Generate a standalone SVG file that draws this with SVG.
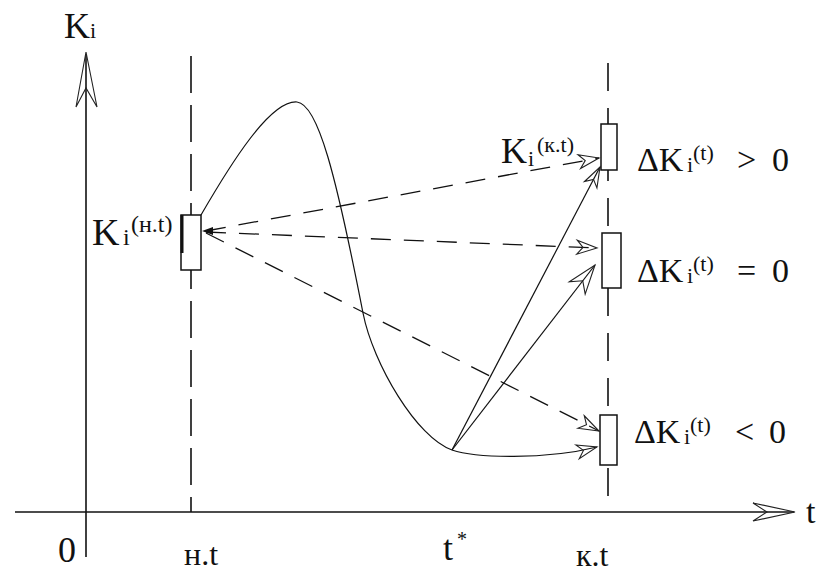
<svg xmlns="http://www.w3.org/2000/svg" width="823" height="573" viewBox="0 0 823 573" font-family="'Liberation Serif', 'DejaVu Serif', 'Times New Roman', serif">
<style>
text{font-family:"Liberation Serif","DejaVu Serif","Times New Roman",serif;fill:#111}
.ax{stroke:#111;stroke-width:1.6;fill:none}
.vd{stroke:#111;stroke-width:1.6;fill:none}
.box{fill:#fff;stroke:#111;stroke-width:1.5}
.dsh{stroke:#111;stroke-width:1.3;fill:none;stroke-dasharray:20 13}
.sol{stroke:#111;stroke-width:1.2;fill:none}
.ah{fill:none;stroke:#222;stroke-width:1.1}
</style>
<defs>
<marker id="oa" markerUnits="userSpaceOnUse" markerWidth="26" markerHeight="20" refX="23" refY="10" orient="auto" overflow="visible">
<path class="ah" d="M3,3 L23,10 L3,17 L9,10 Z"/>
</marker>
<marker id="ob" markerUnits="userSpaceOnUse" markerWidth="34" markerHeight="24" refX="31" refY="12" orient="auto" overflow="visible">
<path class="ah" d="M2,2 L31,12 L2,22 L11,12 Z"/>
</marker>
</defs>
<rect width="823" height="573" fill="#fff"/>

<g id="axes">
<line class="ax" x1="86" y1="557" x2="86" y2="55"/>
<path class="ah" d="M76,107 L86,52 L97,107 L86,88 Z" stroke-width="1.4"/>
<line class="ax" x1="15" y1="512" x2="794" y2="512"/>
<path class="ah" d="M753,503 L795,512 L753,521 L767,512 Z" stroke-width="1.4"/>
<text x="64" y="38" font-size="36">K<tspan font-size="22">i</tspan></text>
<text x="806" y="523" font-size="34">t</text>
<text x="58" y="562" font-size="36">0</text>
</g>

<g id="guides">
<line class="vd" x1="191" y1="56" x2="191" y2="512" stroke-dasharray="37 12"/>
<line class="vd" x1="608" y1="63" x2="608" y2="512" stroke-dasharray="28 17"/>
<text x="184" y="565" font-size="32">н.t</text>
<text x="576" y="566" font-size="32">к.t</text>
<text x="443" y="560" font-size="36">t</text>
<text x="457" y="546" font-size="20">*</text>
</g>

<g id="connectors">
<path class="sol" d="M201,215 C230,165 270,100 297,102 C318,104 336,175 363,313 C373,364 417,438 452,450 C475,458 545,460 597,447" marker-end="url(#oa)"/>
<line class="dsh" x1="206" y1="231" x2="599" y2="158" marker-end="url(#oa)"/>
<line class="dsh" x1="206" y1="232" x2="597" y2="248" marker-end="url(#oa)"/>
<line class="dsh" x1="206" y1="233" x2="599" y2="431" marker-end="url(#oa)"/>
<line class="sol" x1="452" y1="450" x2="600" y2="167" marker-end="url(#oa)"/>
<line class="sol" x1="452" y1="450" x2="595" y2="265" marker-end="url(#ob)"/>
<polygon points="202,231 213,227 213,235" fill="#111"/>
</g>

<g id="start">
<rect class="box" x="181" y="215" width="20" height="55"/>
<line x1="182" y1="215" x2="182" y2="253" stroke="#111" stroke-width="3"/>
<text x="92" y="245" font-size="38">K</text>
<text x="123" y="245" font-size="24">i</text>
<text x="131" y="232" font-size="24">(н.t)</text>
</g>

<g id="up">
<rect class="box" x="601" y="124" width="16" height="46"/>
<text x="501" y="163" font-size="36">K</text>
<text x="528" y="166" font-size="22">i</text>
<text x="537" y="152" font-size="22">(к.t)</text>
<text x="637" y="171" font-size="34">ΔK</text>
<text x="687" y="172" font-size="22">i</text>
<text x="693" y="160" font-size="22">(t)</text>
<text x="737" y="171" font-size="34">&gt;</text>
<text x="772" y="171" font-size="34">0</text>
</g>

<g id="same">
<rect class="box" x="602" y="233" width="19" height="55"/>
<text x="637" y="282" font-size="34">ΔK</text>
<text x="687" y="283" font-size="22">i</text>
<text x="693" y="271" font-size="22">(t)</text>
<text x="737" y="282" font-size="34">=</text>
<text x="772" y="282" font-size="34">0</text>
</g>

<g id="down">
<rect class="box" x="600" y="415" width="17" height="50"/>
<text x="634" y="443" font-size="34">ΔK</text>
<text x="684" y="444" font-size="22">i</text>
<text x="690" y="432" font-size="22">(t)</text>
<text x="735" y="443" font-size="34">&lt;</text>
<text x="769" y="443" font-size="34">0</text>
</g>
</svg>
